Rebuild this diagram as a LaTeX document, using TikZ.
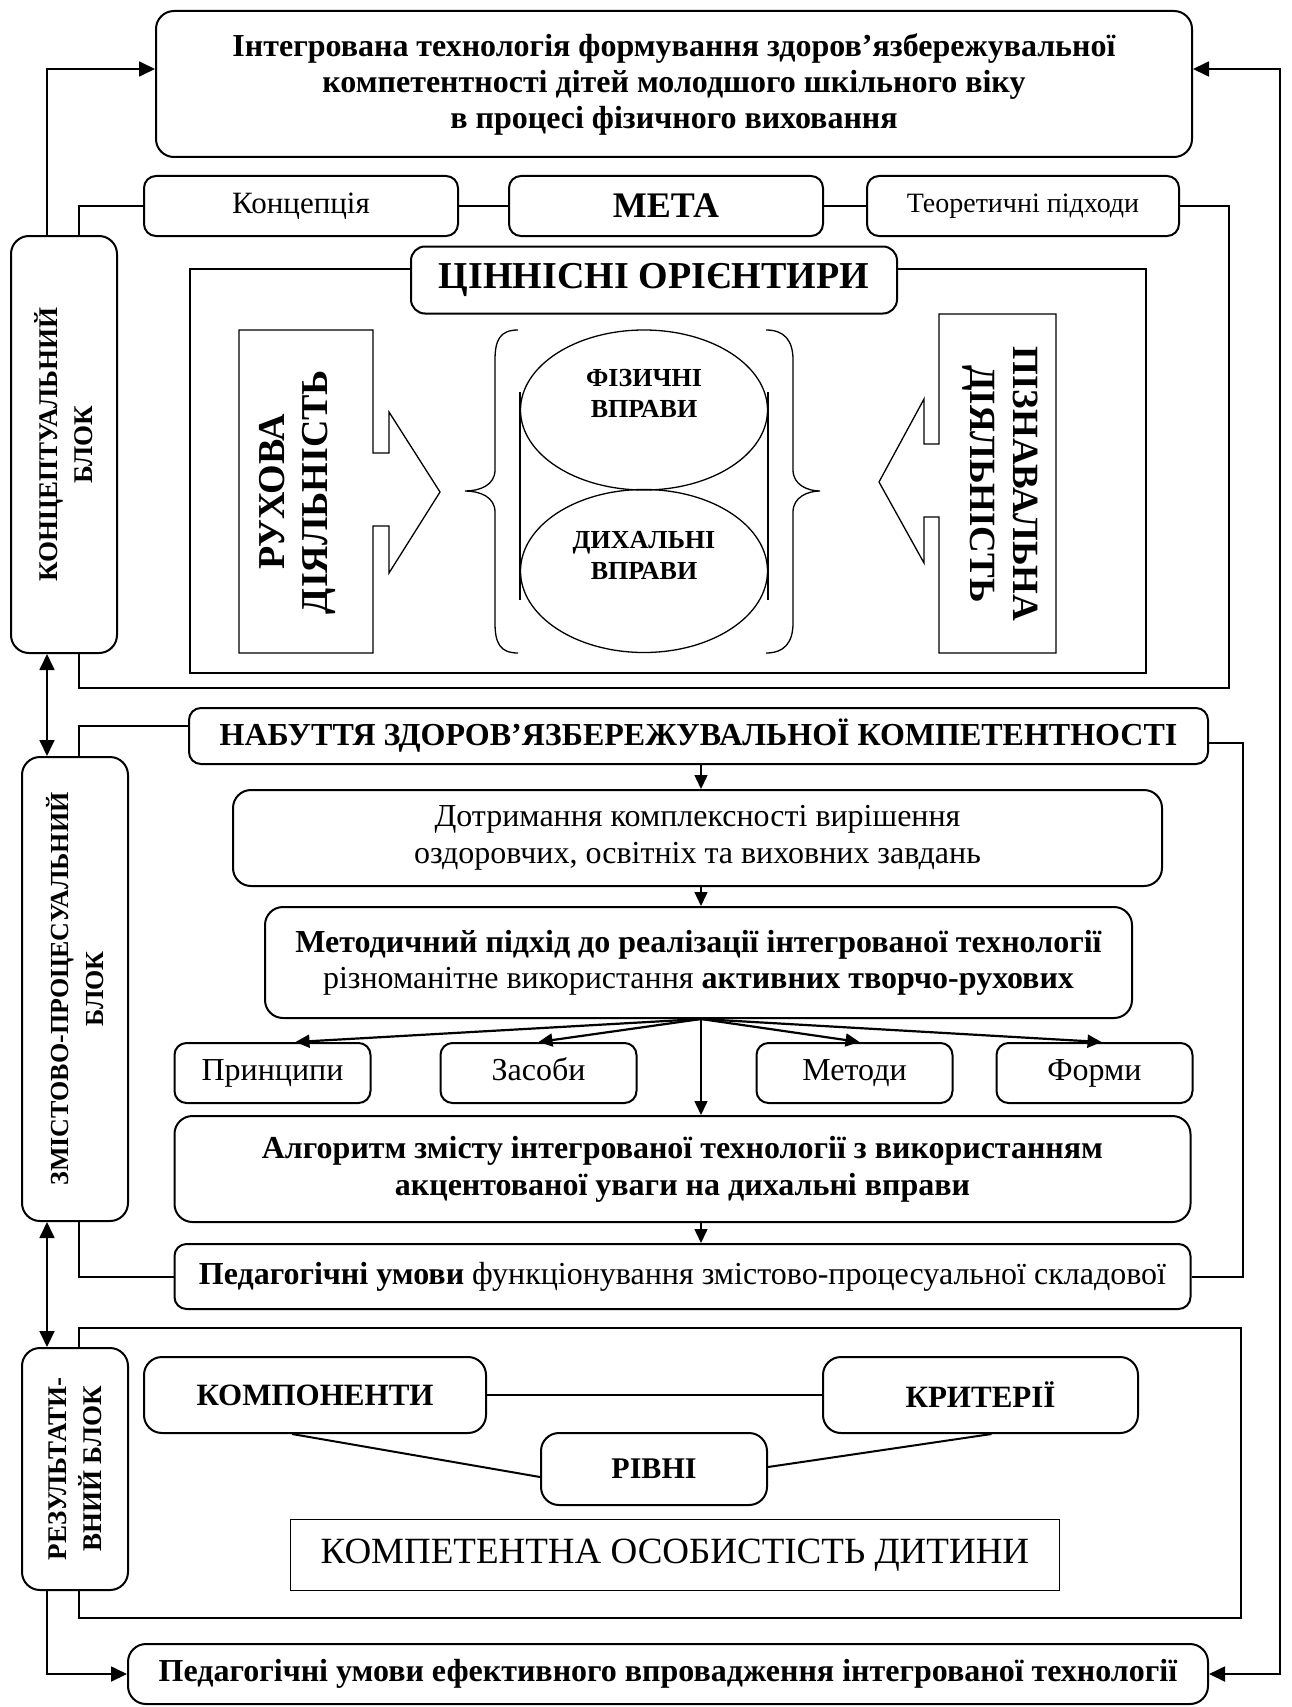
\documentclass[tikz,border=0pt]{standalone}
\usepackage{fontspec}
\setmainfont{Liberation Serif}
\usetikzlibrary{arrows.meta,shapes.geometric,positioning}
\newcommand\fsz[2]{\fontsize{#1}{#2}\selectfont}
\begin{document}
\begin{tikzpicture}[x=1pt,y=-1pt]
\tikzstyle{box}=[draw, line width=2pt, rounded corners=18pt, fill=white, inner sep=0pt, align=center]
\tikzstyle{sbox}=[box, rounded corners=12pt]
\tikzstyle{item}=[sbox, minimum width=196pt, minimum height=60pt, text height=21pt, text depth=6pt, font=\fsz{32}{36}]
\tikzstyle{lbl}=[inner sep=0pt, align=center]
\tikzstyle{link}=[line width=2pt]
\tikzstyle{thin}=[line width=1.3pt]
\tikzstyle{arr}=[line width=1.8pt, -{Triangle[length=16pt,width=15pt]}]
\tikzstyle{dbl}=[line width=1.8pt, {Triangle[length=16pt,width=15pt]}-{Triangle[length=16pt,width=15pt]}]
\tikzstyle{farr}=[line width=1.5pt, -{Triangle[length=14pt,width=13pt]}]
\useasboundingbox (0,0) rectangle (1291,1707);
    \coordinate (laxis) at (47,0);
    \coordinate (maxis) at (701,0);
    \coordinate (rcorner) at (1280,1674);

    \node[box, minimum width=1036pt, minimum height=146pt, font=\fsz{32}{36}\bfseries] (title) at (674,84) {Інтегрована технологія формування здоров’язбережувальної\\компетентності дітей молодшого шкільного віку\\в процесі фізичного виховання};

    \node[sbox, minimum width=314pt, minimum height=60pt, font=\fsz{31}{36}] (idea) at (301,206) {Концепція};
    \node[sbox, minimum width=314pt, minimum height=60pt, font=\fsz{36}{40}\bfseries] (goal) at (666,206) {МЕТА};
    \node[sbox, minimum width=312pt, minimum height=60pt, font=\fsz{28}{32}] (theory) at (1023,206) {Теоретичні підходи};
    \draw[link] (idea) -- (goal);
    \draw[link] (goal) -- (theory);
    \draw[link] (idea.west) -| (79,688) -- (1229,688) |- (theory.east);

    \draw[thin] (190,269) rectangle (1146,673);
    \node[box, rounded corners=14pt, minimum width=486pt, minimum height=67pt, font=\fsz{38}{42}\bfseries] (values) at (654,280) {ЦІННІСНІ ОРІЄНТИРИ};

    \draw[thin] (239,330) -- (373,330) -- (373,453) -- (389,453) -- (389,412) -- (440,492) -- (389,573) -- (389,526) -- (373,526) -- (373,653) -- (239,653) -- cycle;
    \draw[thin] (1056,314) -- (939,314) -- (939,444) -- (924,444) -- (924,399) -- (879,482) -- (924,563) -- (924,517) -- (939,517) -- (939,653) -- (1056,653) -- cycle;
    \node[lbl, rotate=90, font=\fsz{38}{43}\bfseries] (motor) at (297,492) {РУХОВА\\ДІЯЛЬНІСТЬ};
    \node[lbl, rotate=-90, font=\fsz{37}{43}\bfseries] (cognitive) at (1000,484) {ПІЗНАВАЛЬНА\\ДІЯЛЬНІСТЬ};

    \draw[thin] (518,330) .. controls (500,330) and (495,340) .. (495,360) -- (495,470) .. controls (495,485) and (480,491) .. (465,491) .. controls (480,491) and (495,497) .. (495,512) -- (495,623) .. controls (495,643) and (500,653) .. (518,653);
    \draw[thin] (766,330) .. controls (784,330) and (793,340) .. (793,360) -- (793,470) .. controls (793,485) and (808,491) .. (820,491) .. controls (808,491) and (793,497) .. (793,512) -- (793,623) .. controls (793,643) and (784,653) .. (766,653);

    \node[draw, thin, ellipse, minimum width=247pt, minimum height=160pt, inner sep=0pt] (phys) at (644,410) {};
    \node[draw, thin, ellipse, minimum width=247pt, minimum height=163pt, inner sep=0pt] (breath) at (644,571) {};
    \draw[thin] (520,392) -- (520,600);
    \draw[thin] (768,392) -- (768,600);
    \node[lbl, font=\fsz{26}{31}\bfseries] (physt) at (644,393) {ФІЗИЧНІ\\ВПРАВИ};
    \node[lbl, font=\fsz{26}{31}\bfseries] (breatht) at (644,555) {ДИХАЛЬНІ\\ВПРАВИ};

    \node[box, minimum width=106pt, minimum height=417pt] (cblock) at (64,444.5) {};
    \node[lbl, rotate=90, font=\fsz{27}{35}\bfseries] (cblockt) at (cblock.center) {КОНЦЕПТУАЛЬНИЙ\\БЛОК};

    \node[sbox, minimum width=1019pt, minimum height=56pt, font=\fsz{32}{36}\bfseries] (gain) at (698.5,736) {НАБУТТЯ ЗДОРОВ’ЯЗБЕРЕЖУВАЛЬНОЇ КОМПЕТЕНТНОСТІ};
    \node[box, minimum width=929pt, minimum height=96pt, font=\fsz{32}{37}] (tasks) at (697.5,838) {Дотримання комплексності вирішення\\оздоровчих, освітніх та виховних завдань};
    \node[box, minimum width=867pt, minimum height=111pt, font=\fsz{32}{36}] (approach) at (698.5,962.5) {\textbf{Методичний підхід до реалізації інтегрованої технології}\\різноманітне використання \textbf{активних творчо-рухових}};

    \node[item] (princ) at (272.5,1073) {Принципи};
    \node[item] (means) at (538.5,1073) {Засоби};
    \node[item] (methods) at (854.5,1073) {Методи};
    \node[item] (forms) at (1094.5,1073) {Форми};

    \node[box, minimum width=1016pt, minimum height=106pt, font=\fsz{32}{37}\bfseries] (algo) at (682.5,1169) {Алгоритм змісту інтегрованої технології з використанням\\акцентованої уваги на дихальні вправи};
    \node[sbox, minimum width=1016pt, minimum height=65pt, font=\fsz{32}{36}] (cond) at (682.5,1276.5) {\textbf{Педагогічні умови} функціонування змістово-процесуальної складової};

    \draw[link] ([yshift=10pt]gain.west) -| (79,1276.5) -- (cond.west);
    \draw[link] ([yshift=-7pt]gain.east) -| (1243,1276.5) -- (cond.east);
    \draw[farr] (gain.south -| maxis) -- (tasks.north -| maxis);
    \draw[farr] (tasks.south -| maxis) -- (approach.north -| maxis);
    \draw[farr, line width=2.2pt] (approach.south -| maxis) -- ([xshift=23pt]princ.north);
    \draw[farr, line width=2.2pt] (approach.south -| maxis) -- (means.north);
    \draw[farr, line width=2.2pt] (approach.south -| maxis) -- ([xshift=5pt]methods.north);
    \draw[farr, line width=2.2pt] (approach.south -| maxis) -- ([xshift=7pt]forms.north);
    \draw[farr] (approach.south -| maxis) -- (algo.north -| maxis);
    \draw[farr] (algo.south -| maxis) -- (cond.north -| maxis);

    \node[box, minimum width=106pt, minimum height=464pt] (pblock) at (75,989) {};
    \node[lbl, rotate=90, font=\fsz{26}{35}\bfseries] (pblockt) at (pblock.center) {ЗМІСТОВО-ПРОЦЕСУАЛЬНИЙ\\БЛОК};

    \draw[link] (79,1328) rectangle (1241,1618);
    \node[box, minimum width=106pt, minimum height=242pt] (rblock) at (75,1469) {};
    \node[lbl, rotate=90, font=\fsz{27}{35}\bfseries] (rblockt) at (rblock.center) {РЕЗУЛЬТАТИ-\\ВНИЙ БЛОК};

    \node[box, minimum width=342pt, minimum height=76pt, font=\fsz{31}{36}\bfseries] (comp) at (315,1395) {КОМПОНЕНТИ};
    \node[box, minimum width=315pt, minimum height=76pt, font=\fsz{31}{36}\bfseries] (crit) at (980.5,1395) {КРИТЕРІЇ};
    \node[box, minimum width=226pt, minimum height=72pt, font=\fsz{30}{36}\bfseries] (level) at (654,1469) {РІВНІ};
    \draw[link] (comp) -- (crit);
    \draw[link] ([xshift=-23pt]comp.south) -- ([yshift=-8pt]level.west);
    \draw[link] ([xshift=11pt]crit.south) -- ([yshift=2pt]level.east);
    \node[draw, line width=1.6pt, minimum width=769pt, minimum height=71pt, inner sep=0pt, font=\fsz{37}{40}] (person) at (675,1555) {КОМПЕТЕНТНА ОСОБИСТІСТЬ ДИТИНИ};

    \node[box, minimum width=1080pt, minimum height=60pt, font=\fsz{32}{36}\bfseries] (final) at (668,1674) {Педагогічні умови ефективного впровадження інтегрованої технології};

    \draw[arr] (cblock.north -| laxis) |- ([yshift=15pt]title.west);
    \draw[dbl] (cblock.south -| laxis) -- (pblock.north -| laxis);
    \draw[dbl] (pblock.south -| laxis) -- (rblock.north -| laxis);
    \draw[arr] (rblock.south -| laxis) |- (final.west);
    \draw[dbl] ([yshift=15pt]title.east) -| (rcorner) -- (final.east);
\end{tikzpicture}
\end{document}
